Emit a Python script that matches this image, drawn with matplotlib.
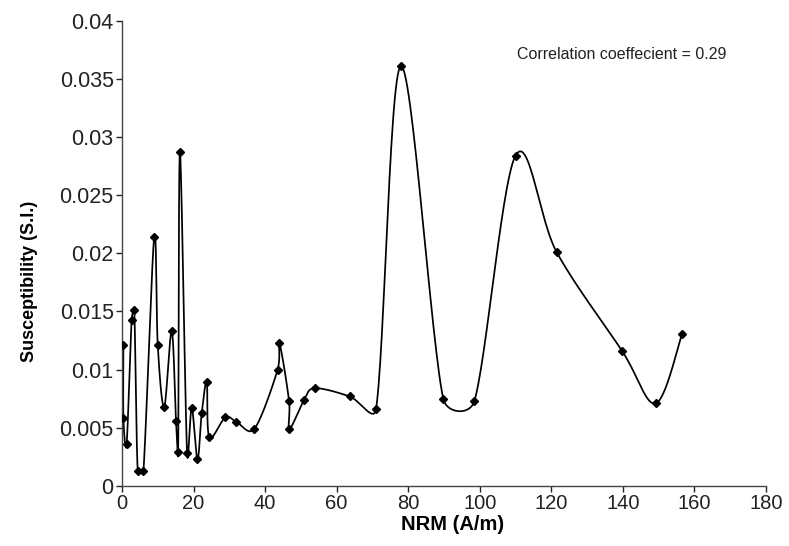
import numpy as np
import matplotlib
matplotlib.use("Agg")
import matplotlib.pyplot as plt

# NRM (A/m) and susceptibility (S.I.)
nrm = [0.4, 0.4, 1.3, 2.7, 3.45, 4.4, 6.0, 9.0, 10.0, 11.8, 13.9, 15.1, 15.7,
       16.2, 18.2, 19.5, 21.1, 22.3, 23.7, 24.4, 28.9, 32.0, 37.0, 43.5, 44.0,
       46.7, 46.8, 50.9, 53.9, 63.6, 71.0, 78.0, 89.8, 98.5, 110.0, 121.5,
       139.8, 149.2, 156.6]
susc = [0.0121, 0.0058, 0.0036, 0.0143, 0.0151, 0.0013, 0.0013, 0.0214, 0.0121,
        0.0068, 0.0133, 0.0056, 0.0029, 0.0287, 0.0028, 0.0067, 0.0023, 0.0063,
        0.0089, 0.0042, 0.0059, 0.0055, 0.0049, 0.0100, 0.0123, 0.0073, 0.0049,
        0.0074, 0.0084, 0.0077, 0.0066, 0.0361, 0.0075, 0.0073, 0.0284, 0.0201,
        0.0116, 0.0071, 0.0131]
x_ticks = list(range(0, 181, 20))
y_ticks = [0, 0.005, 0.01, 0.015, 0.02, 0.025, 0.03, 0.035, 0.04]
y_tick_labels = ["0", "0.005", "0.01", "0.015", "0.02", "0.025", "0.03", "0.035", "0.04"]

XMAX, YMAX = 180, 0.04
AX_W, AX_H = 644, 466  # axes size in pixels, smoothing is done in screen space


def excel_smooth(x, y, n=30):
    """Bezier smoothing like Excel's smoothed line (arms capped at half a segment)"""
    P = np.column_stack([np.asarray(x) / XMAX * AX_W, np.asarray(y) / YMAX * AX_H])
    out = [P[0]]
    m = len(P)
    t = np.linspace(0, 1, n)[1:, None]
    for i in range(m - 1):
        p0 = P[i - 1] if i > 0 else P[i]
        p1, p2 = P[i], P[i + 1]
        p3 = P[i + 2] if i + 2 < m else P[i + 1]
        d02 = np.hypot(*(p2 - p0))
        d12 = np.hypot(*(p2 - p1))
        d13 = np.hypot(*(p3 - p1))
        f1 = 1 / 6 if d02 / 6 < d12 / 2 else (d12 / (2 * d02) if d02 > 0 else 0)
        f2 = 1 / 6 if d13 / 6 < d12 / 2 else (d12 / (2 * d13) if d13 > 0 else 0)
        c1 = p1 + (p2 - p0) * f1
        c2 = p2 - (p3 - p1) * f2
        seg = ((1 - t) ** 3) * p1 + 3 * ((1 - t) ** 2) * t * c1 \
            + 3 * (1 - t) * t ** 2 * c2 + t ** 3 * p2
        out.extend(seg)
    out = np.array(out)
    return out[:, 0] / AX_W * XMAX, out[:, 1] / AX_H * YMAX


plt.rcParams["font.family"] = ["Liberation Sans", "DejaVu Sans"]

fig = plt.figure(figsize=(7.89, 5.46), dpi=100)
ax = fig.add_axes([0.1546, 0.110, 0.8162, 0.852])

sx, sy = excel_smooth(nrm, susc)
ax.plot(sx, sy, color="black", linewidth=1.25, zorder=2)
ax.plot(nrm, susc, linestyle="none", marker="D", markersize=4.5,
        color="black", zorder=3)

ax.set_xlim(0, XMAX)
ax.set_ylim(0, YMAX)
ax.set_xticks(x_ticks)
ax.set_yticks(y_ticks)
ax.set_yticklabels(y_tick_labels)
ax.tick_params(direction="out", length=4, width=1, pad=2, colors="#222222")
ax.tick_params(axis="x", labelsize=14.5)
ax.tick_params(axis="y", labelsize=15.5)

for side in ["top", "right"]:
    ax.spines[side].set_visible(False)
for side in ["left", "bottom"]:
    ax.spines[side].set_color("#444444")
    ax.spines[side].set_linewidth(1)

ax.set_xlabel("NRM (A/m)", fontsize=14.5, fontweight="bold")
ax.xaxis.set_label_coords(0.514, -0.062)
ax.set_ylabel("Susceptibility (S.I.)", fontsize=13, fontweight="bold")
ax.yaxis.set_label_coords(-0.13, 0.44)

ax.text(0.613, 0.927, "Correlation coeffecient = 0.29", transform=ax.transAxes,
        fontsize=11.5, color="#222222", ha="left", va="center")

fig.savefig("out.png", dpi=100)
